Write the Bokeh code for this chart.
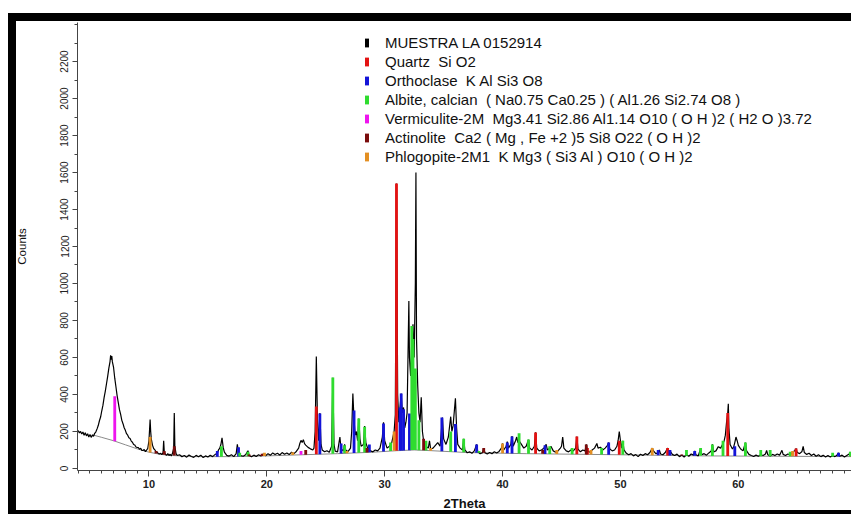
import numpy as np
from bokeh.plotting import figure
from bokeh.models import (Range1d, Legend, LegendItem, FixedTicker)
from bokeh.embed import file_html
from bokeh.resources import INLINE

th_a = [4.0, 4.1, 4.2, 4.3, 4.4, 4.5, 4.6, 4.7, 4.8, 4.9, 5.0, 5.1, 5.2, 5.3, 5.4, 5.5, 5.6]
ct_a = [205, 192, 200, 186, 197, 180, 193, 176, 188, 170, 184, 168, 181, 174, 190, 198, 214]

th_b = [5.7, 5.8, 5.9, 6.0, 6.1, 6.2, 6.3, 6.4, 6.5, 6.6, 6.7, 6.75, 6.8, 6.85, 6.9, 7.0, 7.1, 7.2, 7.3, 7.4,
        7.5, 7.6, 7.7, 7.8, 7.9, 8.0, 8.1, 8.2, 8.3, 8.4, 8.5, 8.6, 8.7, 8.8, 8.9, 9.0, 9.1, 9.2, 9.3, 9.4,
        9.5, 9.6, 9.7, 9.8, 9.9]
ct_b = [232, 258, 278, 312, 342, 384, 418, 458, 498, 542, 578, 612, 588, 608, 576, 546, 488, 442, 394, 356,
        318, 292, 260, 242, 220, 206, 188, 180, 166, 162, 148, 142, 130, 127, 116, 114, 113, 104, 109, 98,
        97, 103, 91, 99, 108]

th_c = [10.0, 10.05, 10.1, 10.15, 10.2, 10.3, 10.4, 10.5, 10.6, 10.7, 10.8, 10.9, 11.0, 11.1, 11.2, 11.25,
        11.3, 11.4, 11.5, 11.6, 11.7, 11.8, 11.9, 12.0, 12.1, 12.15, 12.2, 12.3, 12.4]
ct_c = [150, 205, 265, 198, 160, 126, 108, 101, 90, 88, 80, 79, 82, 75, 86, 150,
        92, 76, 71, 80, 70, 77, 68, 82, 110, 300, 118, 80, 70]

th_d = [12.6, 12.8, 13.0, 13.2, 13.4, 13.6, 13.8, 14.0, 14.2, 14.4, 14.6, 14.8, 15.0, 15.2, 15.4, 15.6,
        15.8, 15.9, 16.0, 16.1, 16.2, 16.3, 16.4, 16.6, 16.8, 17.0, 17.2, 17.4, 17.5, 17.6, 17.8, 18.0,
        18.2, 18.4, 18.5, 18.7, 18.9, 19.1, 19.3, 19.5, 19.7, 19.9, 20.1, 20.3, 20.5, 20.7, 20.9, 21.1,
        21.3, 21.5, 21.7, 21.9, 22.1, 22.3, 22.5]
ct_d = [74, 63, 70, 61, 73, 65, 60, 71, 63, 72, 59, 68, 62, 71, 64, 75,
        82, 100, 108, 128, 165, 114, 88, 71, 67, 74, 64, 80, 130, 84, 69, 66,
        74, 96, 70, 63, 72, 65, 74, 67, 78, 69, 80, 71, 84, 75, 82, 73,
        86, 77, 84, 75, 88, 80, 92]

th_e = [22.7, 22.8, 22.9, 23.0, 23.1, 23.2, 23.3, 23.5, 23.7, 23.9, 24.0, 24.1, 24.2, 24.3, 24.4, 24.5,
        24.6, 24.7, 24.9, 25.1, 25.3, 25.5, 25.6, 25.7, 25.8, 26.0, 26.2, 26.3, 26.5, 26.6, 26.7, 26.9,
        27.1, 27.2, 27.3, 27.4, 27.5, 27.6, 27.7, 27.8, 27.9, 28.0, 28.2, 28.3, 28.4, 28.6, 28.8, 29.0,
        29.2, 29.4, 29.6, 29.8, 29.9, 30.0, 30.2, 30.4, 30.6, 30.8, 30.9]
ct_e = [110, 135, 152, 140, 156, 134, 126, 114, 106, 100, 110, 200, 605, 250, 150, 300,
        130, 100, 90, 96, 88, 120, 490, 130, 94, 90, 170, 105, 95, 130, 98, 92,
        110, 200, 405, 260, 180, 200, 150, 270, 160, 120, 130, 230, 140, 100, 95, 90,
        100, 95, 110, 170, 250, 150, 110, 120, 140, 200, 290]

th_f = [31.0, 31.1, 31.2, 31.3, 31.4, 31.5, 31.6, 31.7, 31.8, 31.9, 32.0, 32.05, 32.1, 32.2, 32.3, 32.4,
        32.5, 32.6, 32.65, 32.7, 32.8, 32.9, 33.0, 33.1, 33.2, 33.3, 33.5, 33.7, 33.8, 33.9]
ct_f = [1540, 400, 250, 330, 405, 300, 330, 220, 250, 300, 700, 905, 600, 500, 700, 780,
        600, 1000, 1600, 700, 450, 300, 250, 385, 200, 150, 120, 110, 150, 105]

th_g = [34.1, 34.3, 34.5, 34.7, 34.9, 35.0, 35.2, 35.4, 35.6, 35.7, 35.8, 36.0, 36.1, 36.2, 36.4, 36.6,
        36.7, 36.8, 37.0, 37.2, 37.4, 37.6, 37.8, 37.9, 38.1, 38.3, 38.4, 38.5, 38.7, 38.9, 39.1, 39.3,
        39.5, 39.7, 39.9, 40.0, 40.1, 40.3, 40.4, 40.5, 40.7, 40.8, 40.9, 41.1, 41.2, 41.3, 41.4, 41.6,
        41.8, 42.0, 42.2, 42.3, 42.5, 42.7, 42.8, 42.9, 43.1, 43.3, 43.5, 43.7, 43.8, 44.0, 44.1, 44.3,
        44.5, 44.7, 44.9, 45.0, 45.1, 45.2, 45.4, 45.6, 45.8, 46.0, 46.2, 46.3, 46.4, 46.6, 46.8, 47.0,
        47.1, 47.2, 47.4, 47.6, 47.8, 48.0, 48.1, 48.3, 48.5, 48.7, 48.9, 49.0, 49.1, 49.3, 49.5, 49.7,
        49.8, 49.9, 50.0, 50.1, 50.2, 50.3]
ct_g = [110, 125, 140, 120, 275, 160, 130, 170, 280, 200, 230, 380, 220, 130, 110, 100,
        160, 100, 85, 90, 82, 95, 130, 90, 80, 85, 110, 85, 78, 86, 80, 90,
        84, 92, 110, 135, 100, 120, 145, 110, 130, 175, 120, 150, 170, 140, 150, 130,
        110, 120, 155, 110, 100, 120, 195, 110, 95, 100, 110, 130, 100, 110, 120, 95,
        88, 95, 110, 120, 170, 110, 95, 90, 100, 95, 110, 173, 105, 90, 100, 95,
        130, 95, 88, 100, 110, 135, 110, 115, 100, 110, 125, 140, 105, 95, 100, 120,
        150, 200, 150, 110, 150, 100]

th_h = [50.5, 50.7, 50.9, 51.1, 51.3, 51.5, 51.7, 51.9, 52.1, 52.3, 52.5, 52.7, 52.8, 53.0, 53.2, 53.3,
        53.4, 53.6, 53.8, 54.0, 54.1, 54.2, 54.4, 54.6, 54.8, 55.0, 55.2, 55.4, 55.6, 55.8, 56.0, 56.2,
        56.3, 56.4, 56.6, 56.8, 56.9, 57.1, 57.3, 57.5, 57.7, 57.8, 57.9, 58.1, 58.3, 58.5, 58.7, 58.8,
        58.9, 59.0, 59.1, 59.15, 59.2, 59.3, 59.5, 59.6, 59.7, 59.8, 59.9, 60.0, 60.2, 60.4, 60.6, 60.7,
        60.9, 61.1, 61.3, 61.5, 61.7, 61.9, 62.1, 62.3, 62.4, 62.5, 62.7, 62.9, 63.1, 63.3, 63.5, 63.7,
        63.8, 64.0, 64.2, 64.4, 64.6, 64.8, 64.9, 65.0, 65.2, 65.4, 65.5, 65.6, 65.8, 66.0, 66.2, 66.4,
        66.6, 66.8, 67.0, 67.2, 67.4, 67.6, 67.8, 68.0, 68.2, 68.4, 68.5, 68.6, 68.8, 69.0, 69.2, 69.4,
        69.5, 69.6, 69.8]
ct_h = [82, 74, 80, 68, 75, 64, 77, 70, 80, 74, 86, 110, 95, 80, 84, 100,
        78, 74, 86, 110, 84, 96, 76, 70, 78, 64, 72, 62, 74, 66, 78, 72,
        95, 74, 68, 108, 74, 80, 72, 84, 94, 130, 90, 95, 118, 110, 135, 150,
        180, 250, 300, 350, 220, 130, 105, 115, 140, 170, 150, 125, 105, 95, 140, 95,
        76, 70, 65, 72, 66, 74, 70, 78, 98, 74, 68, 76, 70, 78, 72, 98,
        76, 70, 78, 74, 86, 98, 108, 86, 80, 92, 120, 86, 76, 82, 70, 78,
        66, 74, 64, 72, 62, 70, 62, 70, 64, 74, 84, 66, 72, 62, 70, 78,
        88, 76, 82]

# fitted background
bg_theta = [5.2, 6, 7, 8, 9, 10, 11, 12, 14, 17, 20, 23, 26, 29, 31, 32.5, 34, 37, 42, 50, 57, 63, 70]
bg_counts = [182, 168, 150, 128, 106, 88, 76, 70, 64, 64, 68, 74, 80, 88, 96, 100, 96, 86, 80, 74, 68, 66, 64]

# ---------------- identified phases (peak position, peak height) ----------------
sample_name = "MUESTRA LA 0152914"

quartz_name = "Quartz  Si O2"
quartz_pos = [24.2, 31.0, 42.8, 46.3, 47.2, 49.9, 54.0, 59.1, 64.9, 69.6]
quartz_h = [335, 1540, 195, 173, 110, 150, 110, 300, 108, 85]

orthoclase_name = "Orthoclase  K Al Si3 O8"
orthoclase_pos = [15.8, 17.6, 24.5, 26.3, 27.4, 28.7, 29.9, 31.3, 31.4, 31.6, 32.1, 34.85, 36.0, 37.8,
                  40.4, 40.8, 43.6, 49.0, 53.2, 54.2, 56.3, 59.7, 68.5]
orthoclase_h = [95, 115, 297, 135, 313, 130, 243, 330, 405, 320, 297, 275, 240, 130,
                140, 173, 125, 140, 100, 100, 95, 120, 85]

albite_name = "Albite, calcian  ( Na0.75 Ca0.25 ) ( Al1.26 Si2.74 O8 )"
albite_pos = [16.15, 17.7, 18.4, 25.6, 26.6, 27.8, 28.3, 30.5, 32.3, 32.4, 32.6, 32.9, 33.5, 35.6, 36.7,
              38.0, 41.4, 42.2, 44.0, 45.9, 48.4, 50.2, 55.6, 56.8, 57.8, 58.7, 60.6, 61.9, 62.7, 64.4,
              68.0, 69.5]
albite_h = [120, 85, 90, 492, 125, 270, 225, 140, 770, 700, 540, 260, 150, 200, 160,
            95, 190, 157, 120, 110, 110, 150, 100, 110, 130, 150, 140, 100, 100, 90,
            85, 90]

vermiculite_name = "Vermiculite-2M  Mg3.41 Si2.86 Al1.14 O10 ( O H )2 ( H2 O )3.72"
vermiculite_pos = [7.1, 22.9]
vermiculite_h = [390, 95]

actinolite_name = "Actinolite  Ca2 ( Mg , Fe +2 )5 Si8 O22 ( O H )2"
actinolite_pos = [10.6, 11.3, 12.15, 18.5, 19.6, 23.3, 28.5, 33.3, 38.4, 43.4, 47.1, 55.2]
actinolite_h = [95, 95, 120, 75, 80, 100, 110, 160, 110, 100, 130, 75]

phlogopite_name = "Phlogopite-2M1  K Mg3 ( Si3 Al ) O10 ( O H )2"
phlogopite_pos = [10.1, 19.8, 22.2, 26.8, 30.8, 33.9, 40.0, 44.6, 47.5, 52.7, 64.6]
phlogopite_h = [170, 85, 88, 95, 200, 110, 135, 100, 100, 110, 95]

# ticks
x_ticks = [10, 20, 30, 40, 50, 60]
x_minor = list(range(4, 70))
y_ticks = [0, 200, 400, 600, 800, 1000, 1200, 1400, 1600, 1800, 2000, 2200]
y_minor = list(range(0, 2401, 100))

# ---------------- build ----------------
two_theta = th_a + th_b + th_c + th_d + th_e + th_f + th_g + th_h
counts = ct_a + ct_b + ct_c + ct_d + ct_e + ct_f + ct_g + ct_h

FONT = "Liberation Sans"
p = figure(width=851, height=514, output_backend="svg", toolbar_location=None,
           x_range=Range1d(3.94, 69.6), y_range=Range1d(-11, 2411),
           min_border_left=77, min_border_right=0, min_border_top=22, min_border_bottom=44,
           margin=0)
p.outline_line_color = None
p.grid.visible = False
p.background_fill_color = "white"
# transparent outer area: the host element below paints white plus the black picture frame
p.border_fill_alpha = 0
p.styles = {
    "background-color": "white",
    "background-image": "linear-gradient(black, black), linear-gradient(black, black), "
                        "linear-gradient(black, black)",
    "background-size": "843px 8px, 8px 501px, 843px 4px",
    "background-position": "8px 13px, 8px 13px, 8px 510px",
    "background-repeat": "no-repeat",
}

# background curve
p.line(bg_theta, bg_counts, line_color="#8a8a8a", line_width=1)
# measured pattern
p.line(two_theta, counts, line_color="black", line_width=1.2)

phase_defs = [
    (quartz_name, quartz_pos, quartz_h, "#e31212"),
    (orthoclase_name, orthoclase_pos, orthoclase_h, "#1414d8"),
    (albite_name, albite_pos, albite_h, "#2fdc2f"),
    (vermiculite_name, vermiculite_pos, vermiculite_h, "#ee14ee"),
    (actinolite_name, actinolite_pos, actinolite_h, "#7a0c0c"),
    (phlogopite_name, phlogopite_pos, phlogopite_h, "#e38f22"),
]
items = []
# zero-height bars on the pattern: invisible, only give the sample a black legend swatch
sample_r = p.vbar(x=two_theta, top=counts, bottom=counts, width=0, fill_color="black", line_color=None)
items.append(LegendItem(label=sample_name, renderers=[sample_r]))
for name, pos, h, col in phase_defs:
    bottoms = np.interp(pos, bg_theta, bg_counts)
    r = p.vbar(x=pos, top=h, bottom=bottoms, width=0.24, fill_color=col, line_color=None)
    items.append(LegendItem(label=name, renderers=[r]))

legend = Legend(items=items, location=(287, 305), padding=0, margin=0, spacing=2,
                glyph_width=5, glyph_height=11, label_height=16, label_standoff=16,
                label_text_font=FONT, label_text_font_size="15px", label_text_color="#111111",
                border_line_alpha=0, background_fill_alpha=0)
p.add_layout(legend)

# axes
for ax in (p.xaxis[0], p.yaxis[0]):
    ax.axis_line_color = "#444444"
    ax.major_tick_line_color = "#444444"
    ax.minor_tick_line_color = "#444444"
    ax.major_tick_in = 0
    ax.minor_tick_in = 0
    ax.major_label_text_font = FONT
    ax.axis_label_text_font = FONT
    ax.major_label_text_color = "#222222"
    ax.axis_label_text_color = "#111111"
    ax.axis_label_text_font_style = "normal"

p.xaxis.ticker = FixedTicker(ticks=x_ticks, minor_ticks=x_minor)
p.xaxis.major_tick_out = 6
p.xaxis.minor_tick_out = 3
p.xaxis.major_label_text_font_size = "11px"
p.xaxis.major_label_text_font_style = "bold"
p.xaxis.major_label_standoff = 3
p.xaxis.axis_label = "2Theta"
p.xaxis.axis_label_text_font_size = "13px"
p.xaxis.axis_label_text_font_style = "bold"
p.xaxis.axis_label_standoff = 5

p.yaxis.ticker = FixedTicker(ticks=y_ticks, minor_ticks=y_minor)
p.yaxis.major_tick_out = 5
p.yaxis.minor_tick_out = 3
p.yaxis.major_label_orientation = "vertical"
p.yaxis.major_label_text_font_size = "10px"
p.yaxis.major_label_standoff = 4
p.yaxis.axis_label = "Counts"
p.yaxis.axis_label_text_font_size = "11.5px"
p.yaxis.axis_label_standoff = 30

open("out.html", "w").write(file_html(p, INLINE))
